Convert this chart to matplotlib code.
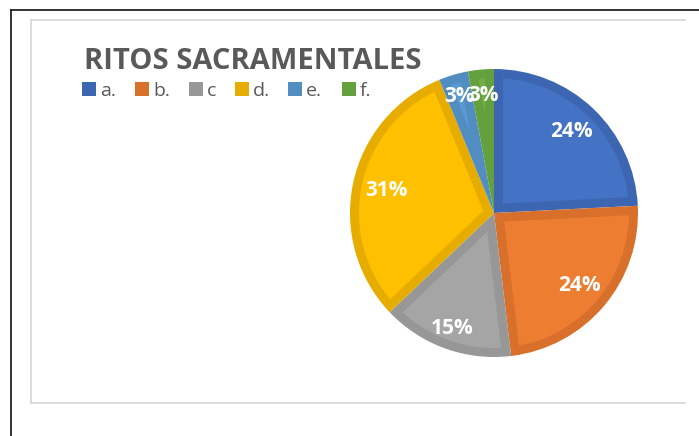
import matplotlib
matplotlib.use("Agg")
import matplotlib.pyplot as plt
from matplotlib.patches import Rectangle, Polygon
from matplotlib.lines import Line2D
import numpy as np

# slice sizes (percent) and the printed data labels
categories = ["a.", "b.", "c", "d.", "e.", "f."]
values = [24.2, 23.9, 14.8, 30.9, 3.3, 2.9]
pct_labels = ["24%", "24%", "15%", "31%", "3%", "3%"]
title = "RITOS SACRAMENTALES"

fills = ["#4472C4", "#ED7D31", "#A5A5A5", "#FFC000", "#5B9BD5", "#70AD47"]
edges = ["#3D66B2", "#D86F2A", "#979797", "#E6AD00", "#528DC2", "#65A03F"]

W, H = 699, 436
fig = plt.figure(figsize=(W / 100, H / 100), dpi=100)
fig.patch.set_facecolor("white")


def fx(x):
    return x / W


def fy(y):
    return 1 - y / H


def inset_wedge(t1, t2, R, d):
    """Polygon of a pie wedge shrunk inward by d (angles in degrees)."""
    a1, a2 = np.deg2rad(t1), np.deg2rad(t2)
    rho = R - d
    half = (a2 - a1) / 2
    apex = d / np.sin(half) * np.array([np.cos(a1 + half), np.sin(a1 + half)])
    s = np.arcsin(d / rho)
    th = np.linspace(a1 + s, a2 - s, 60)
    arc = np.column_stack([rho * np.cos(th), rho * np.sin(th)])
    return np.vstack([apex, arc])


# outer frame lines (black) and inner chart area (light grey)
fig.add_artist(Line2D([fx(10.5), fx(699)], [fy(10.5), fy(10.5)], color="#111111", lw=1.2))
fig.add_artist(Line2D([fx(10.5), fx(10.5)], [fy(10.5), fy(436)], color="#111111", lw=1.2))
fig.add_artist(Line2D([fx(31), fx(685)], [fy(20.5), fy(20.5)], color="#D9D9D9", lw=1.3))
fig.add_artist(Line2D([fx(31), fx(685)], [fy(403), fy(403)], color="#D9D9D9", lw=1.3))
fig.add_artist(Line2D([fx(31), fx(31)], [fy(20.5), fy(403)], color="#D9D9D9", lw=1.3))

# pie, centre (494, 213) px, radius 144 px
cx, cy, r = 494, 213, 144
ax = fig.add_axes([fx(cx - r), fy(cy + r), 2 * r / W, 2 * r / H])
wedges, _ = ax.pie(values, colors=edges, startangle=90, counterclock=False,
                   radius=1, wedgeprops=dict(linewidth=0))
border = 9 / r
for w, fc in zip(wedges, fills):
    ax.add_patch(Polygon(inset_wedge(w.theta1, w.theta2, 1, border),
                         closed=True, facecolor=fc, edgecolor="none"))
ax.set_xlim(-1, 1)
ax.set_ylim(-1, 1)
ax.set_aspect("equal")
ax.axis("off")

# data labels
dists = [0.78, 0.78, 0.85, 0.76, 0.84, 0.82]
for w, lab, d in zip(wedges, pct_labels, dists):
    mid = np.deg2rad((w.theta1 + w.theta2) / 2)
    ax.text(d * np.cos(mid), d * np.sin(mid), lab, ha="center", va="center",
            color="white", fontsize=15, fontweight="bold", family="Open Sans")

# title
fig.text(fx(84), fy(69), title, ha="left", va="baseline", fontsize=21,
         fontweight="bold", color="#595959", family="Open Sans")

# legend
leg_x = [82, 135, 189, 235, 288, 342]
for x, lab, ec in zip(leg_x, categories, edges):
    fig.add_artist(Rectangle((fx(x), fy(96)), 14 / W, 14 / H, facecolor=ec,
                             edgecolor="none", transform=fig.transFigure))
    fig.text(fx(x + 18), fy(96), lab, ha="left", va="baseline", fontsize=14,
             color="#595959", family="Open Sans")

fig.savefig("out.png", dpi=100)
